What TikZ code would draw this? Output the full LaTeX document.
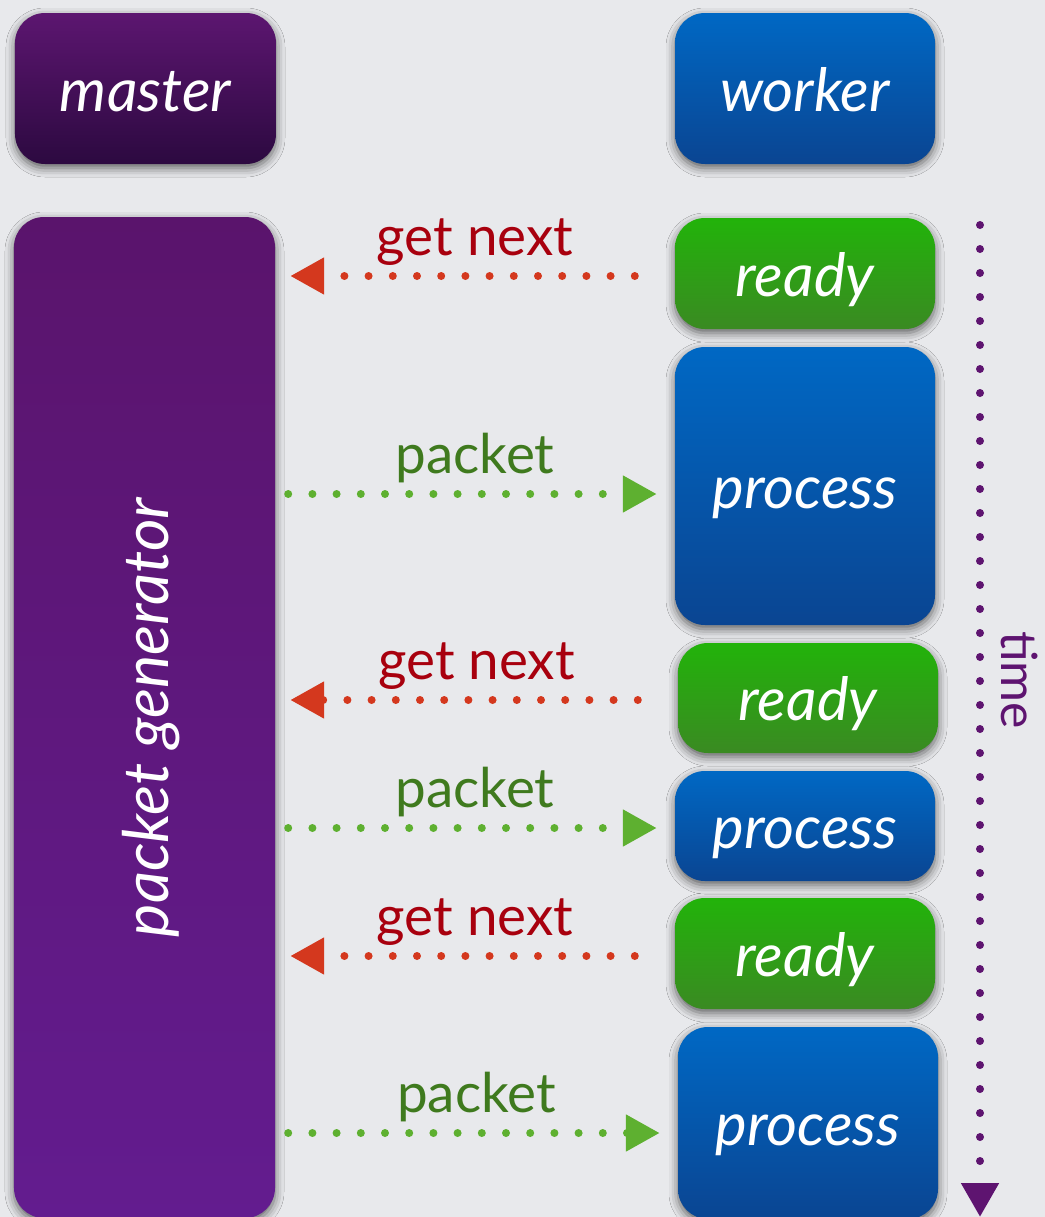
\documentclass[tikz,border=0pt]{standalone}
\usepackage{fontspec}
\setmainfont{Lato}
\usetikzlibrary{arrows.meta,shadows.blur}

\definecolor{bgcol}{HTML}{E8E9EC}
\definecolor{mtop}{HTML}{5C1670}
\definecolor{mbot}{HTML}{2C0940}
\definecolor{gtop}{HTML}{5A146C}
\definecolor{gbot}{HTML}{631C8F}
\definecolor{btop}{HTML}{0068C4}
\definecolor{bbot}{HTML}{0A4592}
\definecolor{rtop}{HTML}{22B30A}
\definecolor{rbot}{HTML}{3A8A22}
\definecolor{reqdot}{HTML}{D4381E}
\definecolor{reqtext}{HTML}{A8000E}
\definecolor{pktdot}{HTML}{5EB030}
\definecolor{pkttext}{HTML}{3F7A1E}
\definecolor{timecol}{HTML}{5E1470}

\begin{document}
\begin{tikzpicture}[x=1bp,y=-1bp,
  box/.style={rounded corners=30bp, text=white, inner sep=0pt,
    blur shadow={shadow xshift=0bp, shadow yshift=-4bp,
      shadow blur radius=9bp, shadow opacity=60}},
  bigfont/.style={font=\fontsize{60}{60}\selectfont\itshape},
  labelbox/.style={box, bigfont, text height=45bp, text depth=0bp},
  masterbox/.style={labelbox, top color=mtop, bottom color=mbot},
  genbox/.style={box, font=\fontsize{63}{63}\selectfont\itshape,
    top color=gtop, bottom color=gbot},
  workerbox/.style={labelbox, top color=btop, bottom color=bbot},
  readybox/.style={labelbox, top color=rtop, bottom color=rbot},
  procbox/.style={labelbox, top color=btop, bottom color=bbot},
  dots/.style={line width=8bp, line cap=round, dash pattern=on 0bp off 24.2bp},
  reqline/.style={dots, draw=reqdot, shorten <=40bp, shorten >=15bp,
    -{Triangle[length=34bp, width=35bp]}},
  pktline/.style={dots, draw=pktdot, shorten <=13bp, shorten >=18bp,
    -{Triangle[length=34bp, width=35bp]}},
  reqlabel/.style={midway, anchor=base, yshift=21bp, text=reqtext,
    font=\fontsize{55}{55}\selectfont},
  pktlabel/.style={midway, anchor=base, yshift=21bp, text=pkttext,
    font=\fontsize{55}{55}\selectfont},
  timeline/.style={dots, dash pattern=on 0bp off 24bp, draw=timecol,
    -{Triangle[length=34bp, width=36bp]}},
  timelabel/.style={text=timecol, rotate=-90, font=\fontsize{50}{50}\selectfont}
]
% canvas
\fill[bgcol] (0,0) rectangle (1045,1217);
\useasboundingbox (0,0) rectangle (1045,1217);

% column headers
\node[masterbox, minimum width=261bp, minimum height=151bp] (master) at (145.5,88.5) {master};
\node[workerbox, minimum width=260bp, minimum height=151bp] (worker) at (805,88.5) {worker};

% master side
\node[genbox, minimum width=261bp, minimum height=1001bp] (gen) at (144.5,717.5)
  {\hspace*{14bp}\rotatebox{90}{packet generator}};

% worker timeline
\node[readybox, minimum width=260bp, minimum height=111bp] (ready1) at (805,273.5) {ready};
\node[procbox,  minimum width=260bp, minimum height=278bp] (proc1)  at (805,486) {process};
\node[readybox, minimum width=260bp, minimum height=110bp] (ready2) at (808,698) {ready};
\node[procbox,  minimum width=260bp, minimum height=110bp] (proc2)  at (805,826) {process};
\node[readybox, minimum width=260bp, minimum height=111bp] (ready3) at (805,953.5) {ready};
\node[procbox,  minimum width=260bp, minimum height=192bp] (proc3)  at (808,1123) {process};

% requests and replies
\draw[reqline] ([yshift=-2.5bp]ready1.west) -- ([yshift=-2.5bp]ready1.west -| gen.east)
  node[reqlabel] {get next};
\draw[pktline] ([yshift=-8bp]proc1.west -| gen.east) -- ([yshift=-8bp]proc1.west)
  node[pktlabel] {packet};
\draw[reqline] ([yshift=-2bp]ready2.west) -- ([yshift=-2bp]ready2.west -| gen.east)
  node[reqlabel] {get next};
\draw[pktline] ([yshift=-2bp]proc2.west -| gen.east) -- ([yshift=-2bp]proc2.west)
  node[pktlabel] {packet};
\draw[reqline] ([yshift=-2.5bp]ready3.west) -- ([yshift=-2.5bp]ready3.west -| gen.east)
  node[reqlabel] {get next};
\draw[pktline] ([yshift=-10bp]proc3.west -| gen.east) -- ([yshift=-10bp]proc3.west)
  node[pktlabel] {packet};

% time axis
\coordinate (t0) at (980,225);
\coordinate (t1) at (980,1217);
\draw[timeline] (t0) -- (t1);
\node[timelabel] (timelbl) at (1020,680) {time};
\end{tikzpicture}
\end{document}
